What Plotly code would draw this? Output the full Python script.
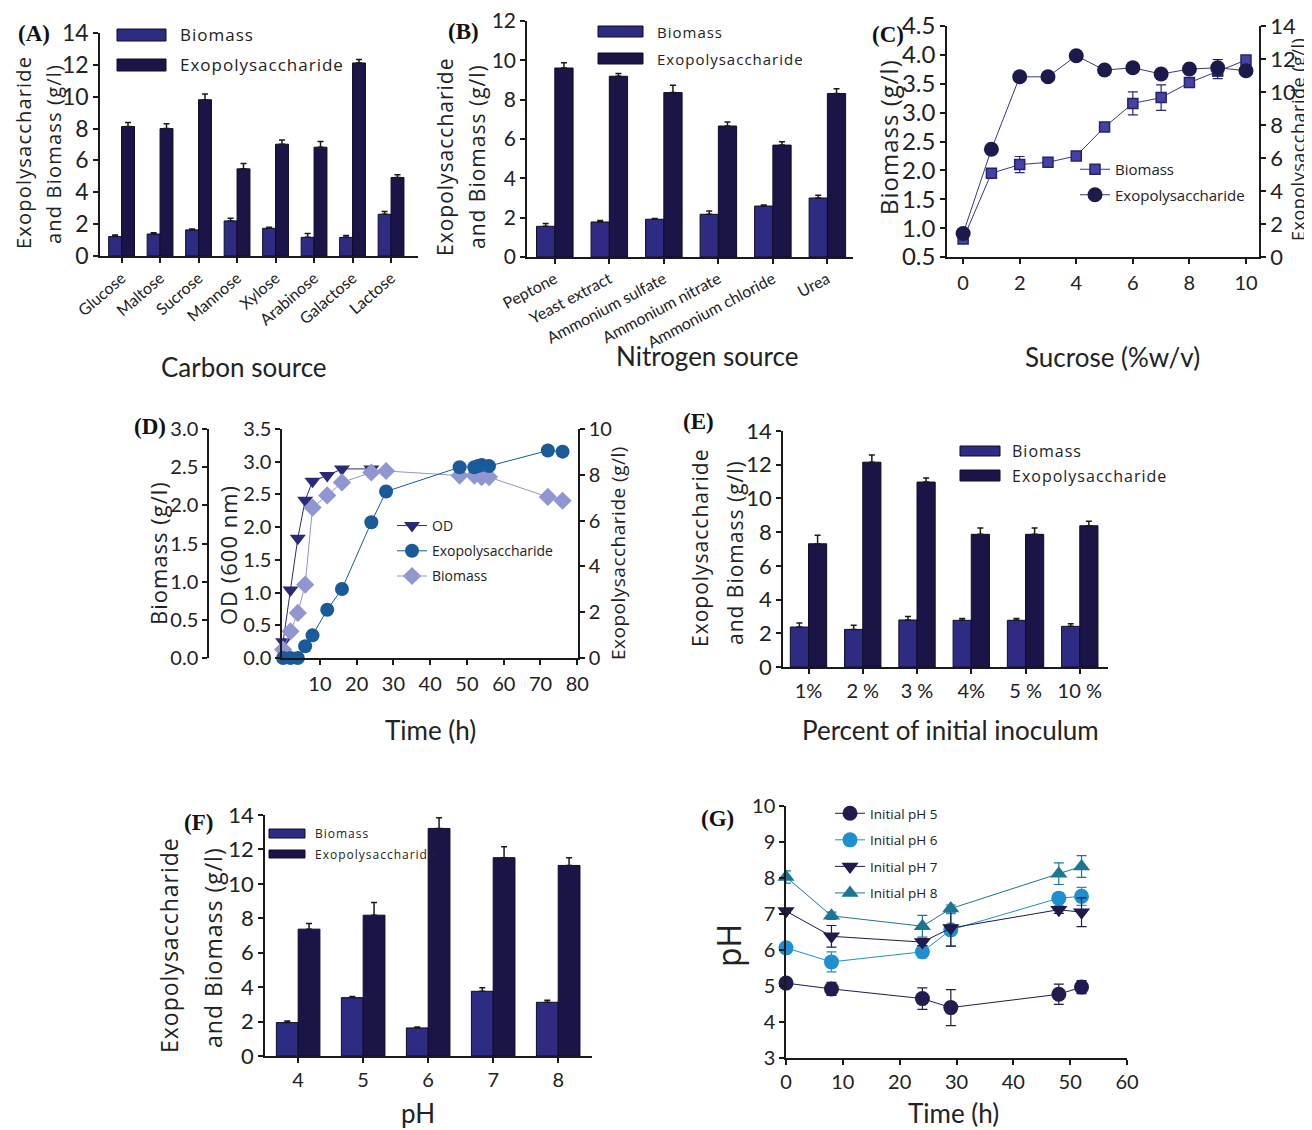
import plotly.graph_objects as go

# The page body has an 8 px margin: the figure is drawn 8 px in from the
# top-left corner of the window, so it is sized and mapped accordingly.
OFF = 8
W, H = 1312 - OFF, 1130 - OFF
def fx(p): return (p - OFF) / W
def fy(p): return 1 - (p - OFF) / H

FONT = "Lato"
FONT2 = "Open Sans"
INK = "#1a1a1a"
TXT = "#222222"
BIO_C = "#2d2b82"
EPS_C = "#1b1446"

# ---------------- data ----------------
# (A) carbon source
carbon = ["Glucose", "Maltose", "Sucrose", "Mannose", "Xylose", "Arabinose", "Galactose", "Lactose"]
carbon_biomass = [1.22, 1.38, 1.64, 2.20, 1.74, 1.17, 1.17, 2.62]
carbon_biomass_err = [0.10, 0.08, 0.05, 0.17, 0.06, 0.25, 0.12, 0.17]
carbon_eps = [8.13, 8.00, 9.81, 5.47, 7.02, 6.83, 12.12, 4.93]
carbon_eps_err = [0.25, 0.30, 0.36, 0.34, 0.27, 0.36, 0.21, 0.17]

# (B) nitrogen source
nitrogen = ["Peptone", "Yeast extract", "Ammonium sulfate", "Ammonium nitrate", "Ammonium chloride", "Urea"]
nitrogen_biomass = [1.56, 1.78, 1.92, 2.17, 2.59, 3.00]
nitrogen_biomass_err = [0.14, 0.08, 0.04, 0.17, 0.05, 0.14]
nitrogen_eps = [9.61, 9.19, 8.36, 6.66, 5.69, 8.31]
nitrogen_eps_err = [0.27, 0.14, 0.37, 0.20, 0.17, 0.25]

# (C) sucrose concentration
sucrose_pct = [0, 1, 2, 3, 4, 5, 6, 7, 8, 9, 10]
sucrose_biomass = [0.81, 1.95, 2.10, 2.14, 2.25, 2.75, 3.16, 3.26, 3.52, 3.72, 3.91]
sucrose_biomass_err = [0.03, 0.03, 0.14, 0.03, 0.03, 0.07, 0.20, 0.22, 0.03, 0.13, 0.03]
sucrose_eps = [1.42, 6.53, 10.92, 10.92, 12.20, 11.33, 11.47, 11.09, 11.39, 11.47, 11.29]
sucrose_eps_err = [0.10, 0.10, 0.30, 0.10, 0.10, 0.10, 0.30, 0.10, 0.10, 0.50, 0.30]

# (D) time course
time_od = [0, 2, 4, 6, 8, 12, 16, 24]
od_600 = [0.25, 1.04, 1.83, 2.41, 2.70, 2.79, 2.89, 2.89]
time_bio = [0, 2, 4, 6, 8, 12, 16, 24, 28, 48, 52, 54, 56, 72, 76]
biomass_time = [0.11, 0.35, 0.59, 0.96, 1.97, 2.13, 2.30, 2.43, 2.45, 2.39, 2.39, 2.37, 2.37, 2.11, 2.06]
time_eps = [0, 2, 4, 6, 8, 12, 16, 24, 28, 48, 52, 53, 54, 56, 72, 76]
eps_time = [0, 0, 0, 0.51, 0.99, 2.11, 3.01, 5.93, 7.27, 8.33, 8.33, 8.38, 8.43, 8.38, 9.06, 9.01]

# (E) inoculum
inoculum = ["1%", "2 %", "3 %", "4%", "5 %", "10 %"]
inoc_biomass = [2.37, 2.23, 2.79, 2.77, 2.77, 2.41]
inoc_biomass_err = [0.24, 0.24, 0.20, 0.10, 0.10, 0.16]
inoc_eps = [7.31, 12.15, 10.97, 7.87, 7.87, 8.38]
inoc_eps_err = [0.50, 0.43, 0.24, 0.37, 0.37, 0.26]

# (F) pH
ph_cat = ["4", "5", "6", "7", "8"]
ph_biomass = [1.94, 3.39, 1.63, 3.76, 3.12]
ph_biomass_err = [0.10, 0.06, 0.06, 0.21, 0.12]
ph_eps = [7.37, 8.18, 13.22, 11.52, 11.07]
ph_eps_err = [0.33, 0.74, 0.62, 0.64, 0.45]

# (G) pH change over time
time_g = [0, 8, 24, 29, 48, 52]
ph5 = [5.08, 4.92, 4.65, 4.40, 4.77, 4.97]
ph5_err = [0.05, 0.18, 0.30, 0.50, 0.28, 0.18]
ph6 = [6.06, 5.67, 5.95, 6.56, 7.44, 7.49]
ph6_err = [0.05, 0.28, 0.17, 0.45, 0.15, 0.25]
ph7 = [7.08, 6.38, 6.22, 6.61, 7.12, 7.05]
ph7_err = [0.05, 0.30, 0.10, 0.50, 0.10, 0.40]
ph8 = [8.03, 6.95, 6.66, 7.15, 8.12, 8.32]
ph8_err = [0.17, 0.10, 0.30, 0.10, 0.30, 0.30]

fig = go.Figure()


def bar_pair(cats, bio, bio_e, eps, eps_e, xa, ya):
    n = len(cats)
    for vals, errs, col, name in ((bio, bio_e, BIO_C, "Biomass"), (eps, eps_e, EPS_C, "Exopolysaccharide")):
        fig.add_trace(go.Bar(
            x=cats, y=vals, name=name, xaxis=xa, yaxis=ya, showlegend=False,
            marker=dict(color=col, line=dict(color="#0e0c28", width=1)),
            error_y=dict(type="data", symmetric=False, array=errs, arrayminus=[0] * n,
                         color=INK, thickness=1.5, width=3)))


bar_pair(carbon, carbon_biomass, carbon_biomass_err, carbon_eps, carbon_eps_err, "x", "y")
bar_pair(nitrogen, nitrogen_biomass, nitrogen_biomass_err, nitrogen_eps, nitrogen_eps_err, "x2", "y2")
bar_pair(inoculum, inoc_biomass, inoc_biomass_err, inoc_eps, inoc_eps_err, "x5", "y8")
bar_pair(ph_cat, ph_biomass, ph_biomass_err, ph_eps, ph_eps_err, "x6", "y9")

# (C)
fig.add_trace(go.Scatter(
    x=sucrose_pct, y=sucrose_biomass, name="Biomass", xaxis="x3", yaxis="y3",
    mode="lines+markers", legend="legend", legendgroup="c1", cliponaxis=False,
    line=dict(color="#3a3880", width=1),
    marker=dict(symbol="square", size=10, color="#4442a4", line=dict(color="#25236b", width=1.5)),
    error_y=dict(type="data", array=sucrose_biomass_err, color="#2a2870", thickness=1.2, width=5)))
fig.add_trace(go.Scatter(
    x=sucrose_pct, y=sucrose_eps, name="Exopolysaccharide", xaxis="x3", yaxis="y4",
    mode="lines+markers", legend="legend", legendgroup="c2", cliponaxis=False,
    line=dict(color="#3a3880", width=1),
    marker=dict(symbol="circle", size=15, color="#1c1a4a"),
    error_y=dict(type="data", array=sucrose_eps_err, color="#1c1a4a", thickness=1.2, width=5)))

# (D)
fig.add_trace(go.Scatter(
    x=time_od, y=od_600, name="OD", xaxis="x4", yaxis="y5", mode="lines+markers",
    legend="legend2", legendgroup="d1", cliponaxis=False,
    line=dict(color="#2b2a78", width=1),
    marker=dict(symbol="triangle-down", size=14, color="#2b2a78")))
fig.add_trace(go.Scatter(
    x=time_eps, y=eps_time, name="Exopolysaccharide", xaxis="x4", yaxis="y7", mode="lines+markers",
    legend="legend2", legendgroup="d2", cliponaxis=False,
    line=dict(color="#1b5a98", width=1),
    marker=dict(symbol="circle", size=14, color="#1b5a98")))
fig.add_trace(go.Scatter(
    x=time_bio, y=biomass_time, name="Biomass", xaxis="x4", yaxis="y6", mode="lines+markers",
    legend="legend2", legendgroup="d3", cliponaxis=False,
    line=dict(color="#9096d0", width=1),
    marker=dict(symbol="diamond", size=14, color="#9096d0")))

# (G)
for vals, errs, name, col, sym, grp in (
        (ph5, ph5_err, "Initial pH 5", "#201c50", "circle", "g1"),
        (ph6, ph6_err, "Initial pH 6", "#1e8fd0", "circle", "g2"),
        (ph7, ph7_err, "Initial pH 7", "#1f1a4a", "triangle-down", "g3"),
        (ph8, ph8_err, "Initial pH 8", "#1d7594", "triangle-up", "g4")):
    fig.add_trace(go.Scatter(
        x=time_g, y=vals, name=name, xaxis="x7", yaxis="y10", mode="lines+markers",
        legend="legend3", legendgroup=grp, cliponaxis=False,
        line=dict(color=col, width=1),
        marker=dict(symbol=sym, size=15, color=col),
        error_y=dict(type="data", array=errs, color=col, thickness=1.2, width=5)))


def ax(**kw):
    d = dict(showline=True, linecolor=INK, linewidth=1.5, ticks="outside", ticklen=5,
             tickwidth=1.5, tickcolor=INK, showgrid=False, zeroline=False, automargin=False,
             ticklabeloverflow="allow",
             tickfont=dict(family=FONT, size=21, color=TXT), fixedrange=True)
    d.update(kw)
    return d


layout = dict(
    width=W, height=H, margin=dict(l=0, r=0, t=0, b=0, pad=0, autoexpand=False),
    paper_bgcolor="white", plot_bgcolor="rgba(0,0,0,0)",
    barmode="group", bargap=0.33, bargroupgap=0,
    # A
    xaxis=ax(domain=[fx(100), fx(418)], anchor="y", type="category", range=[-0.56, 7.70],
             tickangle=-41, tickfont=dict(family=FONT, size=16, color=TXT)),
    yaxis=ax(domain=[fy(256), fy(33)], anchor="x", range=[0, 14], dtick=2,
             tickfont=dict(family=FONT, size=23, color=TXT)),
    # B
    xaxis2=ax(domain=[fx(527), fx(853)], anchor="y2", type="category", range=[-0.51, 5.47],
              tickangle=-28, tickfont=dict(family=FONT, size=16, color=TXT)),
    yaxis2=ax(domain=[fy(257), fy(21)], anchor="x2", range=[0, 12], dtick=2,
              tickfont=dict(family=FONT, size=21, color=TXT)),
    # C
    xaxis3=ax(domain=[fx(947), fx(1259)], anchor="y3", range=[-0.57, 10.46], dtick=2,
              ticklabelstandoff=2, tickfont=dict(family=FONT, size=20, color=TXT)),
    yaxis3=ax(domain=[fy(257), fy(26)], anchor="x3", range=[0.5, 4.5], dtick=0.5,
              tickformat=".1f", tickfont=dict(family=FONT, size=24, color=TXT)),
    yaxis4=ax(overlaying="y3", anchor="x3", side="right", range=[0, 14], dtick=2,
              tickfont=dict(family=FONT, size=22, color=TXT)),
    # D
    xaxis4=ax(domain=[fx(282), fx(578)], anchor="y5", range=[-0.3, 80.2],
              tickvals=[10, 20, 30, 40, 50, 60, 70, 80], ticklabelstandoff=2,
              tickfont=dict(family=FONT, size=20, color=TXT)),
    yaxis5=ax(domain=[fy(658), fy(429)], anchor="x4", range=[0, 3.5], dtick=0.5,
              tickformat=".1f", tickfont=dict(family=FONT, size=20, color=TXT)),
    yaxis6=ax(overlaying="y5", anchor="free", position=fx(208), side="left",
              range=[0, 3.0], dtick=0.5, tickformat=".1f",
              tickfont=dict(family=FONT, size=20, color=TXT)),
    yaxis7=ax(overlaying="y5", anchor="x4", side="right", range=[0, 10], dtick=2,
              tickfont=dict(family=FONT, size=20, color=TXT)),
    # E
    xaxis5=ax(domain=[fx(783), fx(1108)], anchor="y8", type="category", range=[-0.47, 5.52],
              tickfont=dict(family=FONT, size=20, color=TXT)),
    yaxis8=ax(domain=[fy(667), fy(431)], anchor="x5", range=[0, 14], dtick=2,
              tickfont=dict(family=FONT, size=22, color=TXT)),
    # F
    xaxis6=ax(domain=[fx(265), fx(592)], anchor="y9", type="category", range=[-0.51, 4.52],
              tickfont=dict(family=FONT, size=20, color=TXT)),
    yaxis9=ax(domain=[fy(1056), fy(815)], anchor="x6", range=[0, 14], dtick=2,
              tickfont=dict(family=FONT, size=22, color=TXT)),
    # G
    xaxis7=ax(domain=[fx(786), fx(1127)], anchor="y10", range=[0, 60], dtick=10,
              tickfont=dict(family=FONT, size=20, color=TXT)),
    yaxis10=ax(domain=[fy(1058), fy(806)], anchor="x7", range=[3, 10], dtick=1,
               tickfont=dict(family=FONT, size=20, color=TXT)),
    legend=dict(x=fx(1075), y=fy(153), xanchor="left", yanchor="top", bgcolor="rgba(0,0,0,0)",
                font=dict(family=FONT2, size=15, color=TXT), tracegroupgap=3),
    legend2=dict(x=fx(392), y=fy(510), xanchor="left", yanchor="top", bgcolor="rgba(0,0,0,0)",
                 font=dict(family=FONT2, size=14, color=TXT), tracegroupgap=4),
    legend3=dict(x=fx(830), y=fy(798), xanchor="left", yanchor="top", bgcolor="rgba(0,0,0,0)",
                 font=dict(family=FONT2, size=13.5, color=TXT), tracegroupgap=6),
    showlegend=True,
)

annotations = []
shapes = []


def txt(x, y, s, size, family=FONT, angle=0, xanchor="center", spacing=None):
    if spacing:
        s = '<span style="letter-spacing:%spx">%s</span>' % (spacing, s)
    annotations.append(dict(x=fx(x), y=fy(y), xref="paper", yref="paper", text=s,
                            showarrow=False, textangle=angle, xanchor=xanchor, yanchor="middle",
                            font=dict(family=family, size=size, color=TXT)))


def panel(x, y, s):
    annotations.append(dict(x=fx(x), y=fy(y), xref="paper", yref="paper", text="<b>%s</b>" % s,
                            showarrow=False, xanchor="center", yanchor="middle",
                            font=dict(family="Liberation Serif", size=23, color="#111")))


def swatch(x0, y0, x1, y1, color):
    shapes.append(dict(type="rect", xref="paper", yref="paper", x0=fx(x0), x1=fx(x1),
                       y0=fy(y1), y1=fy(y0), fillcolor=color,
                       line=dict(color="#0e0c28", width=1)))


def bar_legend(x0, x1, rows, tx, size):
    (ya0, ya1), (yb0, yb1) = rows
    swatch(x0, ya0, x1, ya1, BIO_C)
    swatch(x0, yb0, x1, yb1, EPS_C)
    txt(tx, (ya0 + ya1) / 2, "Biomass", size, FONT2, xanchor="left", spacing=1)
    txt(tx, (yb0 + yb1) / 2, "Exopolysaccharide", size, FONT2, xanchor="left", spacing=1)


# panel letters
panel(34, 33, "(A)")
panel(463, 32, "(B)")
panel(888, 34, "(C)")
panel(150, 426, "(D)")
panel(698, 422, "(E)")
panel(198, 822, "(F)")
panel(717, 818, "(G)")

# A
txt(23, 153, "Exopolysaccharide", 20, FONT2, -90, spacing=1.2)
txt(53, 154, "and Biomass (g/l)", 20, FONT2, -90, spacing=1.2)
txt(244, 367, "Carbon source", 26)
bar_legend(117, 166, ((29, 41), (59, 71)), 178, 17)

# B
txt(445, 157, "Exopolysaccharide", 21, FONT2, -90, spacing=1)
txt(477, 156, "and Biomass (g/l)", 21, FONT2, -90, spacing=1)
txt(707, 356, "Nitrogen source", 26)
bar_legend(598, 643, ((26, 37), (53, 64)), 655, 15)

# C
txt(888, 137, "Biomass (g/l)", 24, FONT2, -90, spacing=1)
txt(1298, 140, "Exopolysaccharide (g/l)", 18, FONT2, -90, spacing=0.5)
txt(1112, 357, "Sucrose (%w/v)", 26)

# D
txt(158, 553, "Biomass (g/l)", 22, FONT2, -90, spacing=1)
txt(228, 555, "OD (600 nm)", 22, FONT2, -90, spacing=1)
txt(618, 553, "Exopolysaccharide (g/l)", 19, FONT2, -90, spacing=0.5)
txt(430, 730, "Time (h)", 26)

# E
txt(700, 548, "Exopolysaccharide", 21, FONT2, -90, spacing=1)
txt(735, 552, "and Biomass (g/l)", 21, FONT2, -90, spacing=1)
txt(950, 730, "Percent of initial inoculum", 26)
bar_legend(960, 1000, ((446, 456), (470, 481)), 1010, 16)

# F
txt(169, 945, "Exopolysaccharide", 23, FONT2, -90, spacing=1)
txt(213, 948, "and Biomass (g/l)", 23, FONT2, -90, spacing=1)
txt(418, 1113, "pH", 26)
bar_legend(269, 305, ((829, 838), (850, 858)), 313, 12)

# G
txt(728, 946, "pH", 32, FONT2, -90)
txt(953, 1113, "Time (h)", 26)

layout["annotations"] = annotations
layout["shapes"] = shapes
fig.update_layout(**layout)

fig.write_html("out.html")
